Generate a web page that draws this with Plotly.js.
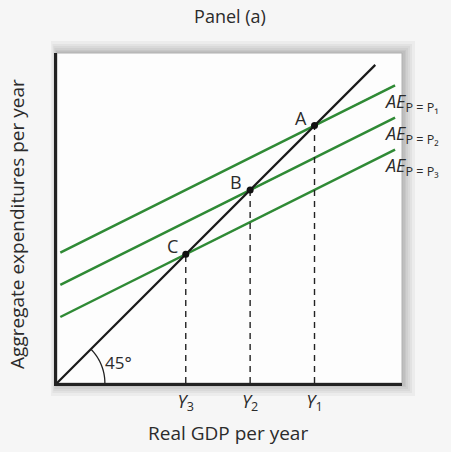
<!DOCTYPE html>
<html>
<head>
<meta charset="utf-8">
<script src="https://cdn.plot.ly/plotly-3.0.1.min.js"></script>
<style>html,body{margin:0;padding:0;background:#f6f6f6;}</style>
</head>
<body>
<div id="chart" style="width:451px;height:452px;"></div>
<script>
// ---- data ----
const equilibriumY = [78, 58.5, 39];          // Y1, Y2, Y3
const pointLabels = ['A', 'B', 'C'];
const aeIntercepts = [39, 29.25, 19.5];       // AE at P1, P2, P3
const aeSlope = 0.5;
const aeLabels = ['<i>AE</i><sub>P = P₁</sub>', '<i>AE</i><sub>P = P₂</sub>', '<i>AE</i><sub>P = P₃</sub>'];
const tickLabels = ['<i>Y</i><sub>1</sub>', '<i>Y</i><sub>2</sub>', '<i>Y</i><sub>3</sub>'];
const diagonalX = [0, 96.4];
const aeX = [1, 102.4];
const angleLabel = '45°';
const xTitle = 'Real GDP per year';
const yTitle = 'Aggregate expenditures per year';
const chartTitle = 'Panel (a)';

const FONT = 'Open Sans';
const GREEN = '#2f8a35';
const TXT = '#2b2b2b';

const traces = [];
aeIntercepts.forEach(a => {
  traces.push({x: aeX, y: aeX.map(x => a + aeSlope * x), mode: 'lines',
    line: {color: GREEN, width: 2.5}, hoverinfo: 'skip'});
});
traces.push({x: diagonalX, y: diagonalX, mode: 'lines', line: {color: '#1a1a1a', width: 2.2}, hoverinfo: 'skip'});
equilibriumY.forEach(v => {
  traces.push({x: [v, v], y: [0, v], mode: 'lines', line: {color: '#222', width: 1.4, dash: '6px,5px'}, hoverinfo: 'skip'});
});
traces.push({x: equilibriumY, y: equilibriumY, mode: 'markers', marker: {color: '#111', size: 7}, hoverinfo: 'skip'});

const annotations = [];
equilibriumY.forEach((v, i) => {
  annotations.push({x: v, y: v, text: pointLabels[i], showarrow: false, xanchor: 'right', yanchor: 'middle',
    xshift: -6, yshift: 8, font: {family: FONT, size: 18, color: TXT}});
});
aeIntercepts.forEach((a, i) => {
  annotations.push({x: 99, y: a + aeSlope * aeX[1], text: aeLabels[i], showarrow: false, xanchor: 'left', yanchor: 'middle',
    yshift: -17, xshift: -2, font: {family: FONT, size: 18, color: TXT}});
});
annotations.push({x: 14, y: 2.2, text: angleLabel, showarrow: false, xanchor: 'left', yanchor: 'bottom',
  font: {family: FONT, size: 17, color: TXT}});
annotations.push({xref: 'paper', yref: 'paper', x: 0.496, y: -0.1515, text: xTitle, showarrow: false,
  xanchor: 'center', yanchor: 'middle', font: {family: FONT, size: 19, color: TXT}});
annotations.push({xref: 'paper', yref: 'paper', x: -0.116, y: 0.482, text: yTitle, showarrow: false, textangle: -90,
  xanchor: 'center', yanchor: 'middle', font: {family: FONT, size: 19, color: TXT}});

// arc marking the 45-degree angle
const r = 14.5;
let arc = '';
for (let k = 0; k <= 20; k++) {
  const t = (Math.PI / 4) * k / 20;
  arc += (k === 0 ? 'M ' : ' L ') + (r * Math.cos(t)).toFixed(3) + ',' + (r * Math.sin(t)).toFixed(3);
}

const shapes = [];
const px = 1 / 345, py = 1 / 330;
[12, 9, 7, 5, 3, 2].forEach(k => {
  shapes.push({type: 'rect', xref: 'paper', yref: 'paper', layer: 'below',
    x0: -k * 0.5 * px, x1: 1 + (k + 1) * px, y0: -(k + 1) * py, y1: 1 + k * py,
    fillcolor: 'rgba(0,0,0,0.04)', line: {width: 0}});
});
shapes.push({type: 'rect', xref: 'paper', yref: 'paper', layer: 'below', x0: 0, x1: 1, y0: 0, y1: 1,
  fillcolor: '#fdfdfd', line: {color: '#b0b0b0', width: 1}});
shapes.push({type: 'path', xref: 'x', yref: 'y', path: arc, line: {color: '#222', width: 1.3}});

const layout = {
  width: 451, height: 452,
  margin: {l: 57, r: 49, t: 53, b: 69},
  font: {family: FONT, size: 18, color: TXT},
  paper_bgcolor: '#f6f6f6', plot_bgcolor: 'rgba(0,0,0,0)',
  showlegend: false,
  title: {text: chartTitle, x: 0.51, xanchor: 'center', y: 0.962, yanchor: 'middle', font: {family: FONT, size: 18, color: TXT}},
  xaxis: {range: [0, 104.5], showgrid: false, zeroline: false, showline: true, linecolor: '#222', linewidth: 3,
    tickvals: equilibriumY, ticktext: tickLabels, ticks: '', tickfont: {family: FONT, size: 18, color: TXT}, fixedrange: true},
  yaxis: {range: [0, 100], showgrid: false, zeroline: false, showline: true, linecolor: '#222', linewidth: 3,
    showticklabels: false, tickvals: [], ticks: '', fixedrange: true},
  annotations: annotations,
  shapes: shapes
};

Plotly.newPlot('chart', traces, layout, {displayModeBar: false});
</script>
</body>
</html>
